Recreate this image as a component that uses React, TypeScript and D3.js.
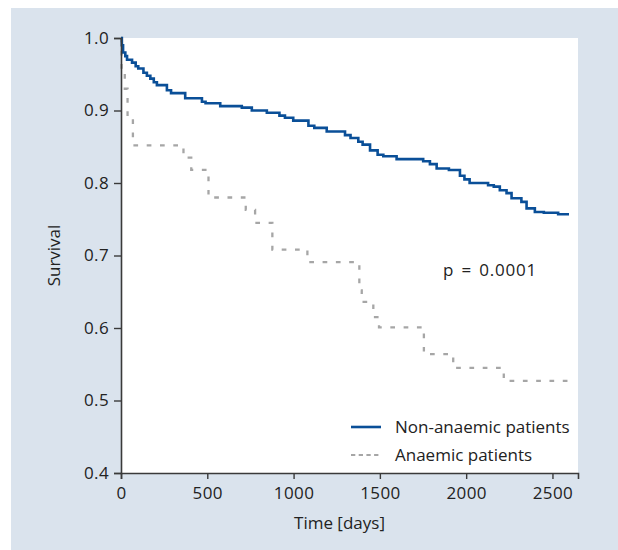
import React, { useEffect, useRef } from 'react'
import * as d3 from 'd3'

// Kaplan-Meier steps: [days, survival]
const nonAnaemicTimes = [0, 5, 12, 25, 35, 64, 85, 100, 130, 150, 170, 190, 208, 266, 290, 372, 469, 490, 575, 700, 758, 845, 918, 950, 998, 1086, 1120, 1192, 1298, 1330, 1375, 1400, 1443, 1487, 1520, 1597, 1751, 1790, 1829, 1900, 1964, 1990, 2020, 2127, 2160, 2195, 2234, 2263, 2320, 2350, 2398, 2450, 2533, 2596]
const nonAnaemicSurvival = [1.0, 0.99, 0.98, 0.975, 0.97, 0.966, 0.961, 0.958, 0.952, 0.948, 0.944, 0.939, 0.935, 0.928, 0.924, 0.917, 0.912, 0.91, 0.906, 0.904, 0.9, 0.897, 0.893, 0.89, 0.886, 0.879, 0.876, 0.871, 0.866, 0.862, 0.857, 0.853, 0.845, 0.839, 0.837, 0.833, 0.83, 0.826, 0.82, 0.818, 0.81, 0.805, 0.8, 0.797, 0.795, 0.79, 0.786, 0.779, 0.774, 0.765, 0.76, 0.759, 0.757, 0.757]

const anaemicTimes = [0, 3, 22, 38, 69, 362, 407, 507, 723, 777, 877, 1080, 1381, 1395, 1462, 1495, 1755, 1925, 2218, 2590]
const anaemicSurvival = [1.0, 0.955, 0.93, 0.89, 0.852, 0.835, 0.818, 0.78, 0.763, 0.745, 0.708, 0.691, 0.652, 0.636, 0.615, 0.601, 0.564, 0.545, 0.527, 0.527]

const xTicks = [0, 500, 1000, 1500, 2000, 2500]
const yTicks = [0.4, 0.5, 0.6, 0.7, 0.8, 0.9, 1.0]

const seriesNames = ['Non-anaemic patients', 'Anaemic patients']

const blue = '#0a4f98'
const grey = '#a6a6a6'
const font = '"Open Sans", "Noto Sans", sans-serif'

export default function App() {
  const ref = useRef<SVGSVGElement>(null)

  useEffect(() => {
    const svg = d3.select(ref.current)
    svg.selectAll('*').remove()

    const margin = { top: 38, right: 40, bottom: 77, left: 121 }
    const width = 618
    const height = 550

    // background panel
    svg.append('rect')
      .attr('x', 11).attr('y', 8)
      .attr('width', width - 11).attr('height', height - 8)
      .attr('fill', '#dae3ed')

    svg.append('rect')
      .attr('x', margin.left).attr('y', margin.top)
      .attr('width', width - margin.right - margin.left)
      .attr('height', height - margin.bottom - margin.top)
      .attr('fill', '#fff')

    const x = d3.scaleLinear()
      .domain([0, 2648])
      .range([margin.left, width - margin.right])

    const y = d3.scaleLinear()
      .domain([0.4, 1.0])
      .range([height - margin.bottom, margin.top])

    const line = d3.line<[number, number]>()
      .x(d => x(d[0]))
      .y(d => y(d[1]))
      .curve(d3.curveStepAfter)

    const anaemic = anaemicTimes.map((t, i) => [t, anaemicSurvival[i]] as [number, number])
    const nonAnaemic = nonAnaemicTimes.map((t, i) => [t, nonAnaemicSurvival[i]] as [number, number])

    svg.append('path')
      .datum(anaemic)
      .attr('d', line)
      .attr('fill', 'none')
      .attr('stroke', grey)
      .attr('stroke-width', 2.3)
      .attr('stroke-dasharray', '4.7 8.6')

    svg.append('path')
      .datum(nonAnaemic)
      .attr('d', line)
      .attr('fill', 'none')
      .attr('stroke', blue)
      .attr('stroke-width', 2.6)

    // axes
    const yAxis = svg.append('g')
      .attr('transform', `translate(${margin.left},0)`)
      .call(d3.axisLeft(y).tickValues(yTicks).tickFormat(d3.format('.1f')).tickSize(7).tickPadding(5))
    const xAxis = svg.append('g')
      .attr('transform', `translate(0,${height - margin.bottom})`)
      .call(d3.axisBottom(x).tickValues(xTicks).tickFormat(d3.format('d')).tickSize(6).tickPadding(8))

    for (const g of [yAxis, xAxis]) {
      g.select('.domain').attr('stroke', '#3a3a3a').attr('stroke-width', 1.6)
      g.selectAll('.tick line').attr('stroke', '#3a3a3a').attr('stroke-width', 1.4)
      g.selectAll('.tick text')
        .attr('fill', '#222')
        .style('font-family', font)
        .style('font-size', '17px')
        .style('letter-spacing', '0.4px')
    }

    const txt = (sel: d3.Selection<SVGTextElement, unknown, null, undefined>) =>
      sel.style('font-family', font).style('font-size', '17px').attr('fill', '#222')

    // axis titles
    svg.append('text')
      .attr('x', (margin.left + width - margin.right) / 2 - 10)
      .attr('y', 529)
      .attr('text-anchor', 'middle')
      .call(txt)
      .text('Time [days]')

    svg.append('text')
      .attr('transform', `translate(60,${y(0.7)}) rotate(-90)`)
      .attr('text-anchor', 'middle')
      .call(txt)
      .text('Survival')

    svg.append('text')
      .attr('x', 443).attr('y', 276)
      .call(txt)
      .style('letter-spacing', '0.8px')
      .style('word-spacing', '2px')
      .text('p = 0.0001')

    // legend
    const legend = svg.append('g')
    seriesNames.forEach((name, i) => {
      const ly = 427 + i * 28
      legend.append('line')
        .attr('x1', 351).attr('x2', 381)
        .attr('y1', ly).attr('y2', ly)
        .attr('stroke', i === 0 ? blue : grey)
        .attr('stroke-width', i === 0 ? 2.6 : 2.2)
        .attr('stroke-dasharray', i === 0 ? null : '4.3 3.4')
      legend.append('text')
        .attr('x', 395).attr('y', ly + 6)
        .call(txt)
        .text(name)
    })
  }, [])

  return (
    <svg ref={ref} width={618} height={550} style={{ position: 'absolute', left: 0, top: 0 }} />
  )
}
